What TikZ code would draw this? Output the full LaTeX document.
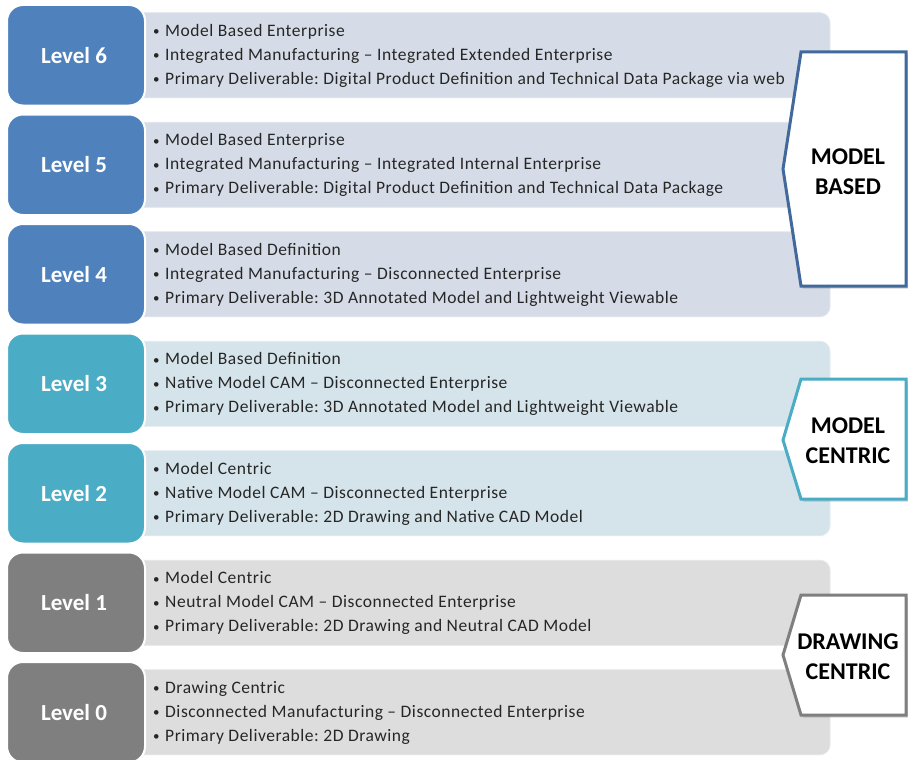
\documentclass[tikz,border=0pt]{standalone}
\usepackage{fontspec}
\setmainfont{Carlito}
\newfontfamily\bodyfont[LetterSpace=3]{Carlito}
\usetikzlibrary{shadows}
\frenchspacing

\definecolor{lvblue}{HTML}{4F81BD}
\definecolor{lvteal}{HTML}{4BACC6}
\definecolor{lvgray}{HTML}{7F7F7F}
\definecolor{pnblue}{HTML}{D6DCE7}
\definecolor{pnteal}{HTML}{D5E4EA}
\definecolor{pngray}{HTML}{DDDDDD}
\definecolor{edblue}{HTML}{41699B}
\definecolor{txt}{HTML}{262626}

\tikzset{
  levelbox/.style={draw=white, line width=2pt, rounded corners=16pt},
  levellabel/.style={text=white, font=\fontsize{23}{27}\selectfont\bfseries},
  panel/.style={rounded corners=10pt, line width=0.8pt},
  bullets/.style={anchor=west, align=left, text=txt, inner sep=0pt,
    font=\bodyfont\fontsize{17.5}{24}\selectfont},
  tag/.style={line width=3pt, line join=miter, fill=white,
    drop shadow={opacity=0.35, shadow xshift=2pt, shadow yshift=-2.5pt}},
  taglabel/.style={align=center, text=black,
    font=\fontsize{24}{30}\selectfont\bfseries}
}

\newcommand{\bl}{\makebox[12pt][l]{\raisebox{0.5pt}{\fontsize{13}{13}\selectfont•}}}

% \levelrow{index from top}{label}{box colour}{panel colour}{line1}{line2}{line3}
\newcommand{\levelrow}[7]{%
  \pgfmathsetmacro{\ytop}{5+109.5*#1}
  \pgfmathsetmacro{\yc}{\ytop+50.25}
  \fill[#4, panel, draw=#4!70!white] (120,\yc-42.5) -- (830,\yc-42.5) -- (830,\yc+42.5) -- (120,\yc+42.5) -- cycle;
  \node[bullets] (text#1) at (153,\yc+0.5) {\bl#5\\\bl#6\\\bl#7};
  \fill[#3, levelbox] (7,\ytop) rectangle (145,\ytop+100.5);
  \node[levellabel] (level#1) at (74,\yc) {#2};
}

\begin{document}
\begin{tikzpicture}[x=1pt, y=-1pt]
  \useasboundingbox (0,0) rectangle (908,760);
  \fill[white] (0,0) rectangle (908,760);

  % level rows, top to bottom
  \levelrow{0}{Level 6}{lvblue}{pnblue}{Model Based Enterprise}{Integrated Manufacturing – Integrated Extended Enterprise}{Primary Deliverable: Digital Product Definition and Technical Data Package via web}
  \levelrow{1}{Level 5}{lvblue}{pnblue}{Model Based Enterprise}{Integrated Manufacturing – Integrated Internal Enterprise}{Primary Deliverable: Digital Product Definition and Technical Data Package}
  \levelrow{2}{Level 4}{lvblue}{pnblue}{Model Based Definition}{Integrated Manufacturing – Disconnected Enterprise}{Primary Deliverable: 3D Annotated Model and Lightweight Viewable}
  \levelrow{3}{Level 3}{lvteal}{pnteal}{Model Based Definition}{Native Model CAM – Disconnected Enterprise}{Primary Deliverable: 3D Annotated Model and Lightweight Viewable}
  \levelrow{4}{Level 2}{lvteal}{pnteal}{Model Centric}{Native Model CAM – Disconnected Enterprise}{Primary Deliverable: 2D Drawing and Native CAD Model}
  \levelrow{5}{Level 1}{lvgray}{pngray}{Model Centric}{Neutral Model CAM – Disconnected Enterprise}{Primary Deliverable: 2D Drawing and Neutral CAD Model}
  \levelrow{6}{Level 0}{lvgray}{pngray}{Drawing Centric}{Disconnected Manufacturing – Disconnected Enterprise}{Primary Deliverable: 2D Drawing}

  % category tags on the right
  \draw[tag, draw=edblue] (801,52) -- (906,52) -- (906,286) -- (801,286) -- (783,169) -- cycle;
  \node[taglabel] (based) at (848,172) {MODEL\\BASED};

  \draw[tag, draw=lvteal] (801,379) -- (906,379) -- (906,499) -- (801,499) -- (783,440) -- cycle;
  \node[taglabel] (centric) at (848,441) {MODEL\\CENTRIC};

  \draw[tag, draw=lvgray] (801,595) -- (906,595) -- (906,715) -- (801,715) -- (783,655) -- cycle;
  \node[taglabel] (drawing) at (848,657) {DRAWING\\CENTRIC};
\end{tikzpicture}
\end{document}
